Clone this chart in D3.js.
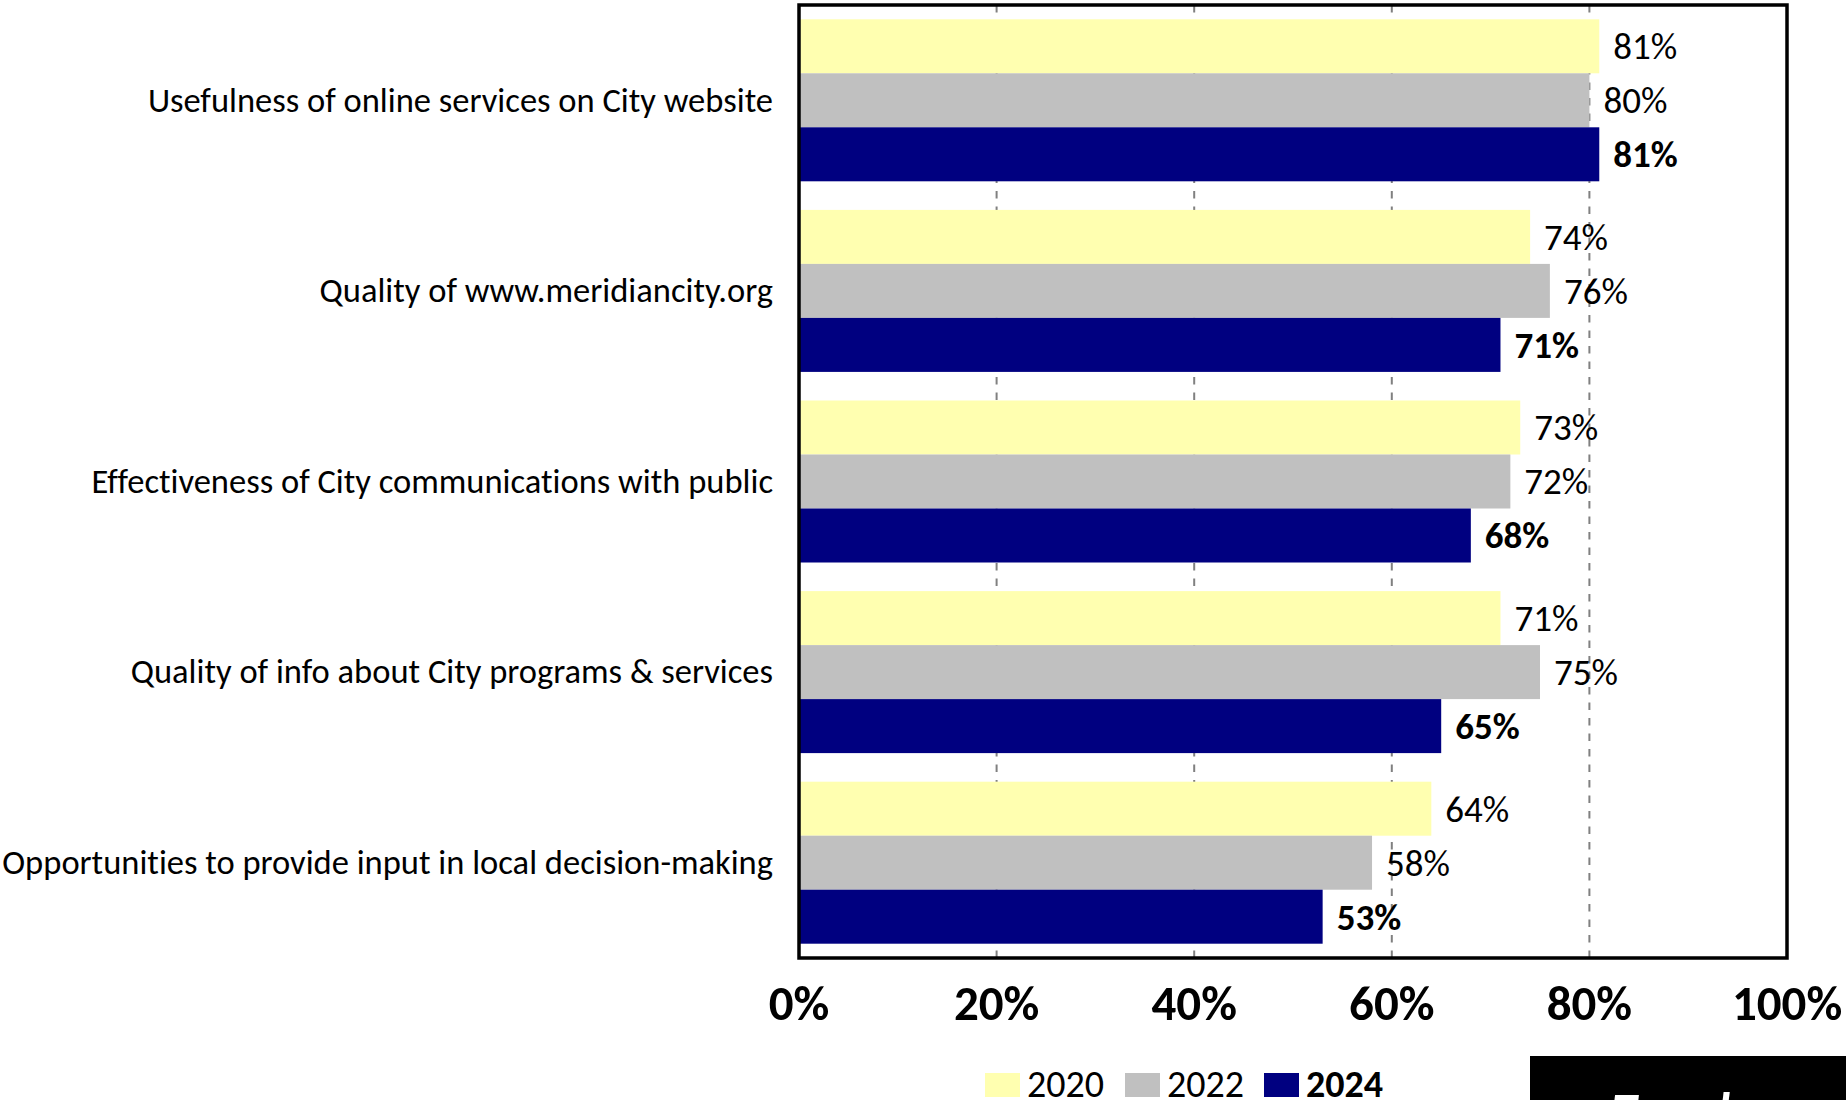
<!DOCTYPE html>
<html>
<head>
<meta charset="utf-8">
<script src="https://cdn.jsdelivr.net/npm/d3@7"></script>
<style>
  body { margin: 0; background: #fff; }
  text { font-family: Carlito, Calibri, Lato, sans-serif; font-variant-ligatures: none; }
</style>
</head>
<body>
<script>
// chart data
var categories = [
  "Usefulness of online services on City website",
  "Quality of www.meridiancity.org",
  "Effectiveness of City communications with public",
  "Quality of info about City programs & services",
  "Opportunities to provide input in local decision-making"
];
var years = ["2020", "2022", "2024"];
var values2020 = [81, 74, 73, 71, 64];
var values2022 = [80, 76, 72, 75, 58];
var values2024 = [81, 71, 68, 65, 53];
var tickValues = [0, 20, 40, 60, 80, 100];
var colors = ["#ffffb0", "#c0c0c0", "#000080"];

var seriesValues = [values2020, values2022, values2024];

var svg = d3.select("body").append("svg").attr("width", 1846).attr("height", 1100),
    margin = {top: 5, right: 59, bottom: 142, left: 799},
    width = 1846 - margin.left - margin.right,
    height = 1100 - margin.top - margin.bottom,
    g = svg.append("g").attr("transform", "translate(" + margin.left + "," + margin.top + ")");

var x = d3.scaleLinear().domain([0, 100]).range([0, width]);

var y0 = d3.scaleBand()
    .domain(categories)
    .range([0, height])
    .paddingInner(0.15)
    .paddingOuter(0.075);

var y1 = d3.scaleBand()
    .domain(years)
    .range([0, y0.bandwidth()]);

var z = d3.scaleOrdinal().domain(years).range(colors);

var rows = categories.map(function(c, i) {
  return {category: c, bars: years.map(function(yr, j) { return {year: yr, value: seriesValues[j][i]}; })};
});

// dashed gridlines behind the bars
g.append("g")
  .selectAll("line")
  .data(tickValues.slice(1, -1))
  .enter().append("line")
    .attr("x1", x).attr("x2", x)
    .attr("y1", 0).attr("y2", height)
    .attr("stroke", "#808080")
    .attr("stroke-width", 2)
    .attr("stroke-dasharray", "7.5,8");

// bars
var groups = g.append("g")
  .selectAll("g")
  .data(rows)
  .enter().append("g")
    .attr("transform", function(d) { return "translate(0," + y0(d.category) + ")"; });

groups.selectAll("rect")
  .data(function(d) { return d.bars; })
  .enter().append("rect")
    .attr("x", 0)
    .attr("y", function(d) { return y1(d.year); })
    .attr("width", function(d) { return x(d.value); })
    .attr("height", y1.bandwidth())
    .attr("fill", function(d) { return z(d.year); });

// value labels, 2024 in bold
groups.selectAll("text")
  .data(function(d) { return d.bars; })
  .enter().append("text")
    .attr("x", function(d) { return x(d.value) + 14; })
    .attr("y", function(d) { return y1(d.year) + y1.bandwidth() / 2; })
    .attr("dy", "0.35em")
    .attr("font-size", 37)
    .attr("font-weight", function(d) { return d.year === "2024" ? "bold" : "normal"; })
    .attr("fill", "#000")
    .text(function(d) { return d.value + "%"; });

// plot frame
g.append("rect")
    .attr("width", width)
    .attr("height", height)
    .attr("fill", "none")
    .attr("stroke", "#000")
    .attr("stroke-width", 3.5);

// category labels
g.append("g")
  .selectAll("text")
  .data(categories)
  .enter().append("text")
    .attr("x", -26)
    .attr("y", function(d) { return y0(d) + y0.bandwidth() / 2; })
    .attr("dy", "0.33em")
    .attr("text-anchor", "end")
    .attr("font-size", 34.5)
    .attr("fill", "#000")
    .text(function(d) { return d; });

// x axis labels
g.append("g")
  .selectAll("text")
  .data(tickValues)
  .enter().append("text")
    .attr("x", x)
    .attr("y", height + 62)
    .attr("text-anchor", "middle")
    .attr("font-size", 49)
    .attr("font-weight", "bold")
    .attr("fill", "#000")
    .text(function(d) { return d + "%"; });

// legend
var legendX = [985, 1125, 1264];
var legend = svg.append("g")
  .selectAll("g")
  .data(years)
  .enter().append("g")
    .attr("transform", function(d, i) { return "translate(" + legendX[i] + ",1073)"; });

legend.append("rect")
    .attr("width", 35)
    .attr("height", 24)
    .attr("fill", z);

legend.append("text")
    .attr("x", 42)
    .attr("y", 24)
    .attr("font-size", 38)
    .attr("font-weight", function(d) { return d === "2024" ? "bold" : "normal"; })
    .attr("fill", "#000")
    .text(function(d) { return d; });

// black tag in the corner, cut off by the page edge
svg.append("rect")
    .attr("x", 1530)
    .attr("y", 1056)
    .attr("width", 316)
    .attr("height", 44)
    .attr("fill", "#000");

svg.append("text")
    .attr("x", 1612)
    .attr("y", 1128)
    .attr("font-size", 50)
    .attr("font-weight", "bold")
    .attr("font-style", "italic")
    .attr("fill", "#fff")
    .text("Trends");
</script>
</body>
</html>
